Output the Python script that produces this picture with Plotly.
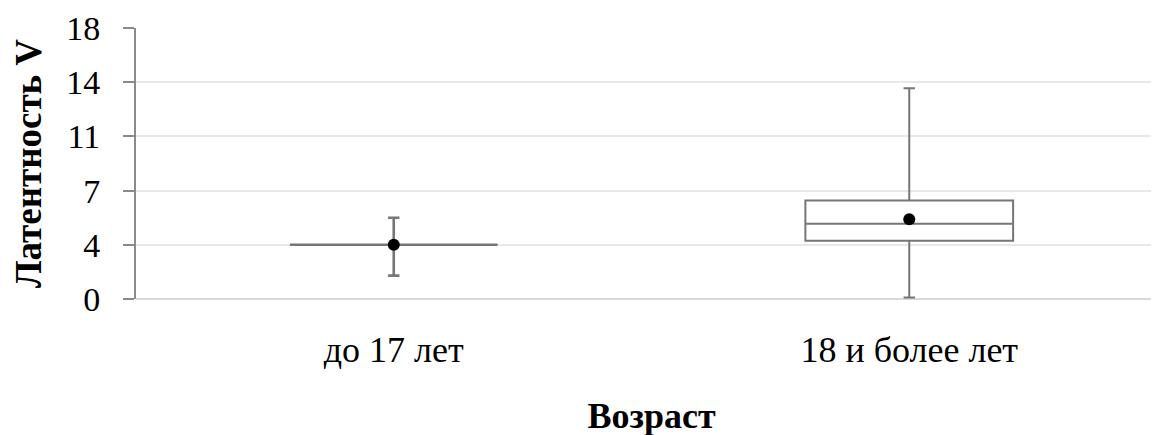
import plotly.graph_objects as go

categories = ["до 17 лет", "18 и более лет"]
lower = [1.55, 0.1]
q1 = [3.6, 3.87]
median = [3.6, 5.0]
q3 = [3.6, 6.55]
upper = [5.4, 14.0]
means = [3.6, 5.3]

ytick_vals = [0, 3.6, 7.2, 10.8, 14.4, 18]
ytick_text = ["0", "4", "7", "11", "14", "18"]

FONT = "Times New Roman, Liberation Serif, serif"
line_widths = [2.6, 2]

fig = go.Figure()
for i, c in enumerate(categories):
    fig.add_trace(go.Box(
        x=[c], q1=[q1[i]], median=[median[i]], q3=[q3[i]],
        lowerfence=[lower[i]], upperfence=[upper[i]],
        width=0.403, whiskerwidth=0.055,
        fillcolor="white", line=dict(color="#767676", width=line_widths[i]),
        boxpoints=False, showlegend=False, hoverinfo="skip",
    ))

fig.add_trace(go.Scatter(
    x=categories, y=means, mode="markers",
    marker=dict(color="black", size=12),
    showlegend=False, hoverinfo="skip",
))

fig.update_layout(
    width=1159, height=435,
    margin=dict(l=128, r=0, t=20, b=144),
    paper_bgcolor="white", plot_bgcolor="white",
    font=dict(family=FONT, size=34, color="black"),
    xaxis=dict(
        type="category", range=[-0.5, 1.5],
        showgrid=False, showline=False, zeroline=False,
        ticks="", ticklabelstandoff=26,
        tickfont=dict(family=FONT, size=36),
        title=dict(text="<b>Возраст</b>", standoff=33,
                   font=dict(family=FONT, size=36)),
    ),
    yaxis=dict(
        range=[0, 18], tickvals=ytick_vals, ticktext=ytick_text,
        showgrid=True, gridcolor="#e8e8e8", gridwidth=1.5,
        zeroline=True, zerolinecolor="#d9d9d9", zerolinewidth=2,
        showline=True, linecolor="#8a8a8a", linewidth=2,
        ticks="outside", ticklen=11, tickcolor="#8a8a8a", tickwidth=2,
        ticklabelstandoff=16,
        tickfont=dict(family=FONT, size=34),
        title=dict(text="<b>Латентность V</b>", standoff=24,
                   font=dict(family=FONT, size=37)),
    ),
)

fig.write_html("out.html")
